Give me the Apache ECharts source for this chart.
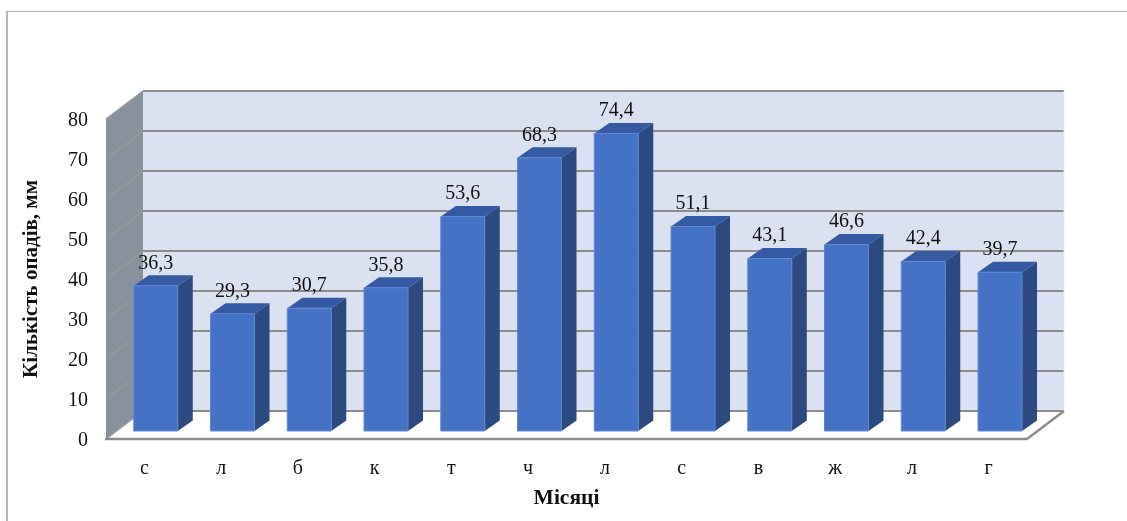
<!DOCTYPE html>
<html><head><meta charset="utf-8">
<style>html,body{margin:0;padding:0;background:#fff}#c{width:1127px;height:521px}</style>
<script src="https://cdn.jsdelivr.net/npm/echarts@6/dist/echarts.min.js"></script>
</head><body><div id="c"></div>
<script>
const categories = ['с','л','б','к','т','ч','л','с','в','ж','л','г'];
const rainfall = [36.3,29.3,30.7,35.8,53.6,68.3,74.4,51.1,43.1,46.6,42.4,39.7];
const yTicks = [0,10,20,30,40,50,60,70,80];
const yName = 'Кількість опадів, мм';
const xName = 'Місяці';

const DEPTH_X = 37, DEPTH_Y = 28;       // wall depth in pixels
const BAR_W = 44, BAR_SHIFT_X = 11.4, BAR_SHIFT_Y = 8, BAR_DX = 15, BAR_DY = 10.5;
const SERIF = '"Liberation Serif","Times New Roman",serif';

function poly(points, fill, z2, stroke) {
  return {type:'polygon', shape:{points}, style:{fill, stroke:stroke||null, lineWidth:stroke?1:0}, z2:z2||0};
}
function seg(x1,y1,x2,y2,color,w,z2) {
  return {type:'line', shape:{x1,y1,x2,y2}, style:{stroke:color, lineWidth:w}, z2:z2||1};
}
function renderWalls(params, api) {
  const left = params.coordSys.x, right = left + params.coordSys.width;
  const y0 = api.coord([0,0])[1], yTop = api.coord([0,80])[1];
  const dx = DEPTH_X, dy = DEPTH_Y, ch = [];
  ch.push(poly([[left+dx,yTop-dy],[right+dx,yTop-dy],[right+dx,y0-dy],[left+dx,y0-dy]],'#dae1f0',0));
  ch.push(poly([[left,yTop],[left+dx,yTop-dy],[left+dx,y0-dy],[left,y0]],'#88929c',0));
  yTicks.forEach(t=>{
    const y = api.coord([0,t])[1];
    ch.push(seg(left,y,left+dx,y-dy,'#9a9a98',1.4,1));
    ch.push(seg(left+dx,y-dy,right+dx,y-dy,'#8c8c8c',2,1));
  });
  ch.push(seg(right+dx,yTop-dy,right+dx,y0-dy,'#e4e8f2',1,1));
  ch.push(seg(left-1,y0,right,y0,'#8c8c8c',2.4,2));
  ch.push(seg(right,y0,right+dx,y0-dy,'#8c8c8c',2.4,2));
  return {type:'group', children:ch};
}
function renderBar(params, api) {
  const i = api.value(0), v = api.value(1);
  const c = api.coord([i,0]), t = api.coord([i,v]);
  const xl = c[0]+BAR_SHIFT_X-BAR_W/2, xr = xl+BAR_W;
  const yb = c[1]-BAR_SHIFT_Y, yt = t[1]-BAR_SHIFT_Y;
  const dx = BAR_DX, dy = BAR_DY;
  return {type:'group', children:[
    poly([[xr,yt],[xr+dx,yt-dy],[xr+dx,yb-dy],[xr,yb]],'#2a4a80',0),
    poly([[xl,yt],[xl+dx,yt-dy],[xr+dx,yt-dy],[xr,yt]],'#335aa3',0),
    poly([[xl,yt],[xr,yt],[xr,yb],[xl,yb]],'#4472c4',1,'#5f88d2'),
    {type:'text', x:(xl+xr)/2, y:yt-22.5,
     style:{text:String(v).replace('.',','), fill:'#111', font:'20px '+SERIF, align:'center', verticalAlign:'middle'}, z2:5}
  ]};
}
const chart = echarts.init(document.getElementById('c'), null, {renderer:'canvas'});
chart.setOption({
  animation:false,
  backgroundColor:'#fff',
  grid:{left:106, right:100, top:119, bottom:82, containLabel:false},
  xAxis:{type:'category', data:categories, name:xName, nameLocation:'middle', nameGap:48,
    nameTextStyle:{fontFamily:SERIF, fontSize:21.5, fontWeight:'bold', color:'#111'},
    axisLine:{show:false}, axisTick:{show:false}, splitLine:{show:false},
    axisLabel:{margin:20, interval:0, fontFamily:SERIF, fontSize:20, color:'#111'}},
  yAxis:{type:'value', min:0, max:80, interval:10, name:yName, nameLocation:'middle', nameGap:64,
    nameTextStyle:{fontFamily:SERIF, fontSize:21, fontWeight:'bold', color:'#111'},
    axisLine:{show:false}, axisTick:{show:false}, splitLine:{show:false},
    axisLabel:{margin:18, verticalAlign:'top', lineHeight:3, fontFamily:SERIF, fontSize:20, color:'#111'}},
  graphic:[
    {type:'line', shape:{x1:7,y1:11.5,x2:1127,y2:11.5}, style:{stroke:'#b4b4b4',lineWidth:1.2}, silent:true},
    {type:'line', shape:{x1:7,y1:11,x2:7,y2:521}, style:{stroke:'#a8a8a8',lineWidth:1.6}, silent:true}
  ],
  series:[
    {type:'custom', coordinateSystem:'cartesian2d', data:[[0,0]], renderItem:renderWalls, silent:true, z:1, clip:false},
    {type:'custom', coordinateSystem:'cartesian2d', data:rainfall.map((v,i)=>[i,v]), renderItem:renderBar, z:2, clip:false,
     encode:{x:0,y:1}}
  ]
});
</script></body></html>
